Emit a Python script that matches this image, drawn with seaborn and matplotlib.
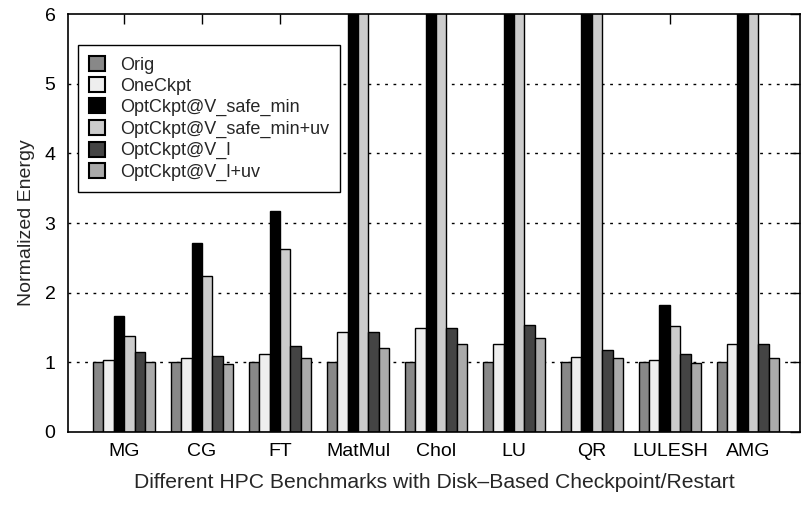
import matplotlib
matplotlib.use("Agg")
import matplotlib.pyplot as plt
import seaborn as sns
import pandas as pd
from matplotlib.patches import Patch

benchmarks = ["MG", "CG", "FT", "MatMul", "Chol", "LU", "QR", "LULESH", "AMG"]
series = ["Orig", "OneCkpt", "OptCkpt@V_safe_min", "OptCkpt@V_safe_min+uv",
          "OptCkpt@V_l", "OptCkpt@V_l+uv"]
orig = [1.0, 1.0, 1.0, 1.0, 1.0, 1.0, 1.0, 1.0, 1.0]
one_ckpt = [1.03, 1.06, 1.12, 1.44, 1.49, 1.26, 1.08, 1.03, 1.26]
safe_min = [1.67, 2.71, 3.17, 9.0, 9.0, 9.0, 9.0, 1.82, 9.0]
safe_min_uv = [1.38, 2.24, 2.62, 9.0, 9.0, 9.0, 9.0, 1.52, 9.0]
v_l = [1.15, 1.09, 1.24, 1.44, 1.49, 1.53, 1.18, 1.12, 1.26]
v_l_uv = [1.0, 0.975, 1.06, 1.21, 1.26, 1.35, 1.06, 0.985, 1.06]
colors = ["#888888", "#eeeeee", "#000000", "#cccccc", "#444444", "#aaaaaa"]

vals = [orig, one_ckpt, safe_min, safe_min_uv, v_l, v_l_uv]
rows = []
for s, v in zip(series, vals):
    for b, y in zip(benchmarks, v):
        rows.append({"Benchmark": b, "Series": s, "Energy": y})
df = pd.DataFrame(rows)

sns.set_style("white")
plt.rcParams["font.family"] = ["Liberation Sans", "DejaVu Sans"]

fig = plt.figure(figsize=(8.06, 5.05), dpi=100)
ax = fig.add_axes([68/806, 73/505, 732/806, 418/505])

sns.barplot(data=df, x="Benchmark", y="Energy", hue="Series", order=benchmarks,
            hue_order=series, palette=colors, width=0.8, gap=0,
            edgecolor="black", linewidth=1.0, saturation=1, legend=False,
            errorbar=None, ax=ax, zorder=3)

ax.set_ylim(0, 6)
ax.set_xlim(-0.72, 8.67)
ax.set_yticks(range(0, 7))
for y in range(1, 6):
    ax.axhline(y, color="black", linestyle=(0, (2, 4)), linewidth=1.0, zorder=1)

ax.tick_params(axis="both", direction="in", length=7, width=1, labelsize=14,
               top=True, right=True, colors="black")
ax.tick_params(axis="x", pad=8)
ax.tick_params(axis="y", pad=9)
for sp in ax.spines.values():
    sp.set_color("black")
    sp.set_linewidth(1.2)
    sp.set_visible(True)
    sp.set_zorder(5)

ax.set_xlabel("Different HPC Benchmarks with Disk\u2013Based Checkpoint/Restart", fontsize=15.2, labelpad=9)
ax.set_ylabel("Normalized Energy", fontsize=14, labelpad=7)

handles = [Patch(facecolor=c, edgecolor="black", linewidth=1.5) for c in colors]
labels = ["Orig", "OneCkpt", "OptCkpt@V_safe_min", "OptCkpt@V_safe_min+uv",
          "OptCkpt@V_l", "OptCkpt@V_l+uv"]
leg = ax.legend(handles, labels, loc="upper left", bbox_to_anchor=(10/732, 1 - 31/418),
                fontsize=13, frameon=True, fancybox=False, framealpha=1,
                handlelength=0.9, handleheight=0.9, handletextpad=0.85,
                labelspacing=0.2, borderaxespad=0, borderpad=0.6)
leg.get_frame().set_edgecolor("black")
leg.get_frame().set_linewidth(1.0)
leg.set_zorder(6)

fig.savefig("out.png", dpi=100)
